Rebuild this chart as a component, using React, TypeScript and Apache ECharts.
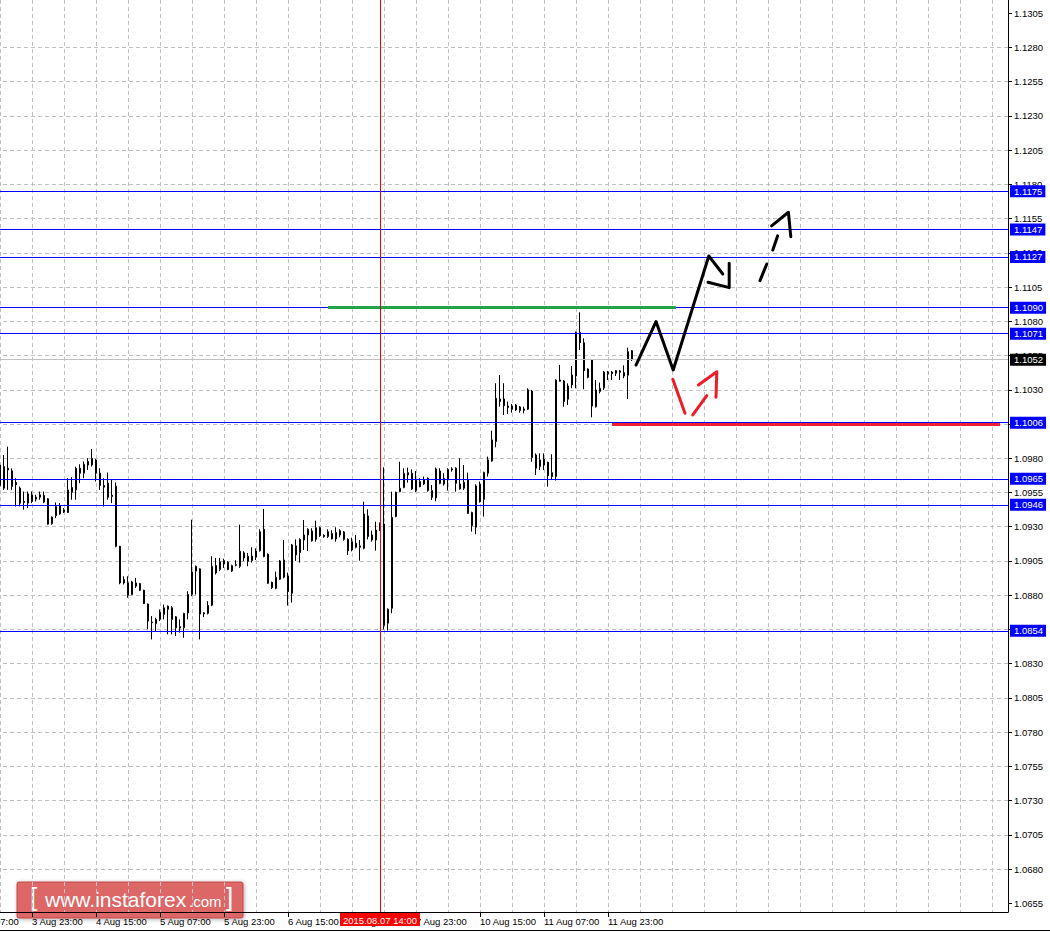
import React, { useEffect, useRef } from 'react';
import * as echarts from 'echarts';

const FONT = '"Liberation Sans", Arial, sans-serif';

// ---- axis scaffolding (price ticks every 0.0025) ----
const BASE = 1.0655;
const STEP = 0.0025;
const yTicks = [
  1.0655, 1.068, 1.0705, 1.073, 1.0755, 1.078, 1.0805, 1.083, 1.0855, 1.088, 1.0905, 1.093, 1.0955, 1.098,
  1.1005, 1.103, 1.1055, 1.108, 1.1105, 1.113, 1.1155, 1.118, 1.1205, 1.123, 1.1255, 1.128, 1.1305,
];
const yMinPrice = 1.06486;
const yMaxPrice = 1.13147;

// ---- time categories (H1 bars) ----
const sessionDays = ['3 Aug', '4 Aug', '5 Aug', '6 Aug', '7 Aug', '10 Aug', '11 Aug', '12 Aug', '13 Aug', '14 Aug', '17 Aug', '18 Aug'];
const firstHour = 7;
const slotCount = 261;
const candleStart = 8; // 3 Aug 15:00

// ---- candles (3 Aug 15:00 .. 12 Aug 05:00) ----
const candleOpen = [
  1.0975, 1.09581, 1.09727, 1.09708, 1.09623, 1.09582, 1.09484, 1.09472, 1.09533, 1.09501,
  1.09533, 1.09528, 1.09504, 1.09322, 1.0938, 1.09455, 1.09407, 1.09404, 1.09586, 1.09569,
  1.09727, 1.09691, 1.09776, 1.09751, 1.09788, 1.09691, 1.09601, 1.09618, 1.0952, 1.09596,
  1.09157, 1.08914, 1.0889, 1.08805, 1.08866, 1.08885, 1.08836, 1.08735, 1.08604, 1.08591,
  1.08623, 1.08659, 1.08696, 1.08708, 1.08642, 1.0857, 1.08562, 1.08671, 1.08805, 1.08975,
  1.08992, 1.08671, 1.08667, 1.08727, 1.09016, 1.08987, 1.09052, 1.0904, 1.08977, 1.09019,
  1.09011, 1.09109, 1.09084, 1.09052, 1.09077, 1.09125, 1.09281, 1.09099, 1.08894, 1.0885,
  1.08916, 1.09057, 1.0894, 1.08814, 1.09094, 1.09111, 1.09203, 1.0924, 1.09269, 1.09208,
  1.09293, 1.09237, 1.09228, 1.0925, 1.09211, 1.09271, 1.09262, 1.09208, 1.0913, 1.09179,
  1.0915, 1.09142, 1.09379, 1.0924, 1.09203, 1.09325, 1.0932, 1.08595, 1.08704, 1.09374,
  1.09556, 1.09586, 1.09678, 1.0969, 1.09564, 1.09629, 1.09612, 1.09654, 1.09564, 1.0951,
  1.09707, 1.09612, 1.09642, 1.09715, 1.09727, 1.09612, 1.09581, 1.09642, 1.09403, 1.09296,
  1.0961, 1.095, 1.0969, 1.0978, 1.09922, 1.10233, 1.10233, 1.10182, 1.10157, 1.10189,
  1.10148, 1.1016, 1.10158, 1.10291, 1.09824, 1.09739, 1.09793, 1.0977, 1.09695, 1.09666,
  1.10362, 1.10365, 1.10231, 1.10335, 1.10401, 1.1072, 1.10644, 1.10452, 1.10518, 1.10177,
  1.10287, 1.10314, 1.10416, 1.1043, 1.10421, 1.10426, 1.10426, 1.10406, 1.10586,
];
const candleHigh = [
  1.0984, 1.09824, 1.09885, 1.09727, 1.09654, 1.09594, 1.09557, 1.09557, 1.09557, 1.09533,
  1.09557, 1.09557, 1.09509, 1.09375, 1.09477, 1.09472, 1.09436, 1.09654, 1.09662, 1.09739,
  1.09756, 1.09776, 1.098, 1.09868, 1.09795, 1.09727, 1.09654, 1.09696, 1.09642, 1.09623,
  1.0916, 1.08938, 1.08938, 1.08905, 1.08926, 1.0889, 1.0884, 1.08739, 1.08647, 1.08635,
  1.08696, 1.08732, 1.08725, 1.0872, 1.08647, 1.08623, 1.08671, 1.08829, 1.09351, 1.09016,
  1.08997, 1.08676, 1.08756, 1.09084, 1.09072, 1.09072, 1.09067, 1.09048, 1.09023, 1.09055,
  1.09315, 1.09121, 1.09109, 1.0915, 1.09142, 1.09281, 1.0943, 1.09105, 1.08899, 1.08972,
  1.09057, 1.09203, 1.08965, 1.09174, 1.09208, 1.09215, 1.09349, 1.09289, 1.09289, 1.09344,
  1.093, 1.09245, 1.09281, 1.09274, 1.09296, 1.09281, 1.09269, 1.09215, 1.0922, 1.0924,
  1.09203, 1.09483, 1.09427, 1.09271, 1.09337, 1.0933, 1.09734, 1.08704, 1.09556, 1.09556,
  1.09775, 1.09727, 1.09732, 1.09719, 1.09707, 1.09654, 1.09666, 1.0966, 1.09605, 1.09732,
  1.09727, 1.0969, 1.09727, 1.09734, 1.09734, 1.098, 1.09751, 1.09695, 1.0941, 1.0961,
  1.0963, 1.09702, 1.09812, 1.10002, 1.10348, 1.10408, 1.10348, 1.10214, 1.10197, 1.10197,
  1.10182, 1.10177, 1.10311, 1.10299, 1.09836, 1.09836, 1.09836, 1.09775, 1.09829, 1.10377,
  1.10482, 1.10372, 1.10347, 1.10474, 1.10725, 1.10866, 1.10676, 1.10457, 1.10518, 1.10372,
  1.10353, 1.10438, 1.10438, 1.10438, 1.10445, 1.10445, 1.10479, 1.10608, 1.10591,
];
const candleLow = [
  1.0945, 1.09569, 1.09569, 1.09569, 1.09448, 1.09448, 1.09424, 1.09436, 1.09472, 1.09484,
  1.09497, 1.09472, 1.09315, 1.09315, 1.09363, 1.09387, 1.094, 1.094, 1.09497, 1.09497,
  1.09618, 1.09654, 1.09715, 1.09739, 1.0963, 1.09569, 1.09448, 1.09497, 1.09472, 1.0915,
  1.0888, 1.08878, 1.08781, 1.088, 1.08853, 1.0883, 1.08735, 1.0855, 1.08477, 1.08538,
  1.08611, 1.08623, 1.08514, 1.08514, 1.08502, 1.08526, 1.08489, 1.08623, 1.08793, 1.08805,
  1.08477, 1.0864, 1.08659, 1.0872, 1.08951, 1.08975, 1.08999, 1.08982, 1.0897, 1.09011,
  1.08999, 1.09048, 1.09011, 1.09038, 1.09057, 1.09118, 1.09077, 1.08882, 1.08845, 1.08843,
  1.08911, 1.08923, 1.08724, 1.08746, 1.0905, 1.09038, 1.0913, 1.09123, 1.09191, 1.09191,
  1.09225, 1.0922, 1.09218, 1.09208, 1.09191, 1.09223, 1.09198, 1.09094, 1.0912, 1.09142,
  1.09052, 1.09135, 1.09208, 1.09191, 1.09125, 1.0927, 1.0855, 1.08541, 1.08668, 1.09369,
  1.09552, 1.09581, 1.09622, 1.09568, 1.09552, 1.09588, 1.09605, 1.09556, 1.09495, 1.09486,
  1.0961, 1.096, 1.09564, 1.09702, 1.09556, 1.09571, 1.09568, 1.09393, 1.09264, 1.09245,
  1.09476, 1.09374, 1.09666, 1.09775, 1.0988, 1.10177, 1.10116, 1.10124, 1.10133, 1.10145,
  1.10133, 1.10128, 1.10153, 1.09775, 1.09678, 1.09714, 1.09714, 1.09593, 1.09641, 1.09637,
  1.1036, 1.10177, 1.10189, 1.10311, 1.10311, 1.10591, 1.10304, 1.10384, 1.10099, 1.1017,
  1.10274, 1.10299, 1.10372, 1.10372, 1.10401, 1.10372, 1.10384, 1.10233, 1.10511,
];
const candleClose = [
  1.096, 1.09739, 1.09715, 1.09594, 1.09606, 1.09472, 1.09477, 1.0954, 1.09484, 1.09516,
  1.09516, 1.0948, 1.09319, 1.0937, 1.09448, 1.09395, 1.09424, 1.09569, 1.09552, 1.09727,
  1.09691, 1.09756, 1.09751, 1.098, 1.09691, 1.09601, 1.09589, 1.09516, 1.0953, 1.09157,
  1.0889, 1.0889, 1.088, 1.08897, 1.0889, 1.08836, 1.08739, 1.08611, 1.08599, 1.08623,
  1.08676, 1.08708, 1.0872, 1.08623, 1.08562, 1.0856, 1.08667, 1.08805, 1.0897, 1.09011,
  1.08662, 1.08664, 1.08725, 1.09011, 1.08963, 1.09043, 1.09028, 1.08987, 1.09016, 1.09023,
  1.09121, 1.09072, 1.09048, 1.09086, 1.09123, 1.09264, 1.09082, 1.08887, 1.08855, 1.08931,
  1.0905, 1.08931, 1.08826, 1.09167, 1.0916, 1.09208, 1.0924, 1.09281, 1.09198, 1.09293,
  1.09235, 1.09228, 1.09264, 1.09211, 1.09259, 1.0924, 1.09208, 1.09125, 1.09191, 1.0915,
  1.0916, 1.09393, 1.09228, 1.09203, 1.09276, 1.09276, 1.0858, 1.08697, 1.09369, 1.09552,
  1.09581, 1.0969, 1.09695, 1.09576, 1.09642, 1.09593, 1.09642, 1.09564, 1.09515, 1.09722,
  1.09617, 1.09654, 1.09719, 1.09722, 1.09617, 1.09576, 1.09625, 1.09398, 1.09308, 1.09598,
  1.09483, 1.09697, 1.09788, 1.09934, 1.10238, 1.10214, 1.10184, 1.1017, 1.10182, 1.10153,
  1.10175, 1.1015, 1.10299, 1.09805, 1.09727, 1.09788, 1.09751, 1.09673, 1.09666, 1.10372,
  1.10372, 1.10214, 1.10328, 1.10408, 1.1072, 1.10644, 1.1044, 1.10391, 1.10182, 1.10299,
  1.10311, 1.1043, 1.1043, 1.10418, 1.1044, 1.10438, 1.10401, 1.10579, 1.1052,
];

// ---- horizontal levels ----
const levelPrices = [1.1175, 1.1147, 1.1127, 1.109, 1.1071, 1.1006, 1.0965, 1.0946, 1.0854];
const bidPrice = 1.1052;
const resistance = { price: 1.109, from: 90, to: 177 };
const support = { price: 1.10048, from: 161, to: 258 };
const markedTime = '7 Aug 14:00';
const markedTimeLabel = '2015.08.07 14:00';

// ---- hand-drawn forecast strokes: [bar index, price] ----
const mainPath = [[167, 1.10481], [172, 1.10798], [176.3, 1.10445], [185.2, 1.11277], [188.7, 1.11146]];
const mainHead = [[185.0, 1.11085], [190.3, 1.11046], [190.3, 1.11224]];
const altDash1 = [[198.0, 1.11097], [199.7, 1.11219]];
const altDash2 = [[201.2, 1.11321], [202.4, 1.11424]];
const altHead = [[200.9, 1.11497], [205.1, 1.11597], [205.7, 1.11418]];
const redDown = [[176.2, 1.10377], [179.25, 1.10129]];
const redUp = [[181.2, 1.10116], [184.7, 1.10257]];
const redHead = [[182.6, 1.10335], [187.2, 1.10432], [187.0, 1.10246]];

const toAxis = (p: number) => (p - BASE) / STEP;

function buildCategories(): string[] {
  const out: string[] = [];
  sessionDays.forEach((d, di) => {
    for (let h = di === 0 ? firstHour : 0; h < 24; h++) {
      if (out.length < slotCount) out.push(`${d} ${h < 10 ? '0' + h : h}:00`);
    }
  });
  return out;
}

export default function App() {
  const ref = useRef<HTMLDivElement>(null);

  useEffect(() => {
    if (!ref.current) return;
    const chart = echarts.init(ref.current, null, { renderer: 'svg' });
    const categories = buildCategories();
    const lastIdx = candleStart + candleOpen.length - 1;

    const candleData: any[] = [];
    for (let i = 0; i < candleStart; i++) candleData.push('-');
    for (let j = 0; j < candleOpen.length; j++) {
      candleData.push([toAxis(candleOpen[j]), toAxis(candleClose[j]), toAxis(candleLow[j]), toAxis(candleHigh[j])]);
    }

    const labelFilter = (i: number) => i % 16 === 0 && i <= lastIdx;
    const tickValues = yTicks.map(toAxis);

    const boxLabel = (bg: string) => ({
      show: true,
      position: 'end',
      distance: 2,
      formatter: '{b}',
      color: '#ffffff',
      backgroundColor: bg,
      padding: [1, 3, 1, 4],
      fontSize: 9.5,
      lineHeight: 10,
      fontFamily: FONT,
    });

    const stroke = (data: number[][], color: string) => ({
      type: 'line',
      xAxisIndex: 1,
      yAxisIndex: 0,
      data: data.map(([x, p]) => [x, toAxis(p)]),
      symbol: 'none',
      silent: true,
      z: 5,
      lineStyle: { color, width: 3, cap: 'round', join: 'round' },
    });

    const option: any = {
      animation: false,
      backgroundColor: '#ffffff',
      grid: { left: -32, top: 0, width: 1040, height: 912, containLabel: false, outerBoundsMode: 'none' },
      xAxis: [
        {
          type: 'category',
          data: categories,
          boundaryGap: false,
          axisLine: { show: true, onZero: false, lineStyle: { color: '#000', width: 1 } },
          axisTick: { show: true, interval: labelFilter, length: 5, lineStyle: { color: '#000' } },
          axisLabel: {
            show: true,
            interval: labelFilter,
            align: 'left',
            margin: 4,
            color: '#000',
            fontSize: 9.5,
            fontFamily: FONT,
          },
          splitLine: {
            show: true,
            interval: (i: number) => i % 8 === 0,
            lineStyle: { color: '#c0c0c0', width: 1, type: [4, 3] },
          },
        },
        { type: 'value', min: 0, max: slotCount - 1, show: false },
      ],
      yAxis: {
        type: 'value',
        position: 'right',
        min: toAxis(yMinPrice),
        max: toAxis(yMaxPrice),
        minInterval: 1,
        maxInterval: 1,
        axisLine: { show: true, onZero: false, lineStyle: { color: '#000', width: 1 } },
        axisTick: { show: true, length: 4, lineStyle: { color: '#000' }, customValues: tickValues },
        axisLabel: {
          show: true,
          margin: 6,
          color: '#000',
          fontSize: 9.5,
          fontFamily: FONT,
          customValues: tickValues,
          formatter: (v: number) => {
            const r = Math.round(v);
            if (Math.abs(v - r) > 1e-6) return '';
            return (BASE + r * STEP).toFixed(4);
          },
        },
        splitLine: {
          show: true,
          showMinLine: false,
          showMaxLine: false,
          lineStyle: { color: '#c0c0c0', width: 1, type: [4, 3] },
        },
      },
      series: [
        {
          type: 'candlestick',
          xAxisIndex: 0,
          yAxisIndex: 0,
          data: candleData,
          barWidth: 2,
          itemStyle: {
            color: '#ffffff',
            color0: '#000000',
            borderColor: '#000000',
            borderColor0: '#000000',
            borderWidth: 1,
          },
          markLine: {
            silent: true,
            symbol: ['none', 'none'],
            animation: false,
            precision: 6,
            data: [
              { yAxis: toAxis(bidPrice), name: bidPrice.toFixed(4), lineStyle: { color: '#c0c0c0', width: 1, type: 'solid' }, label: boxLabel('#000000') },
              ...levelPrices.map((p) => ({
                yAxis: toAxis(p),
                name: p.toFixed(4),
                lineStyle: { color: '#0000ff', width: 1, type: 'solid' },
                label: boxLabel('#0000ff'),
              })),
              [
                { coord: [resistance.from, toAxis(resistance.price)], lineStyle: { color: '#22a44a', width: 3, type: 'solid' }, label: { show: false } },
                { coord: [resistance.to, toAxis(resistance.price)], lineStyle: { color: '#22a44a', width: 3, type: 'solid' }, label: { show: false } },
              ],
              [
                { coord: [support.from, toAxis(support.price)], lineStyle: { color: '#ee2233', width: 3, type: 'solid' }, label: { show: false } },
                { coord: [support.to, toAxis(support.price)], lineStyle: { color: '#ee2233', width: 3, type: 'solid' }, label: { show: false } },
              ],
              {
                xAxis: markedTime,
                name: markedTimeLabel,
                lineStyle: { color: '#ff0000', width: 1, type: 'solid' },
                label: {
                  show: true,
                  position: 'start',
                  distance: 1,
                  formatter: '{b}',
                  color: '#ffffff',
                  backgroundColor: '#ff0000',
                  padding: [2, 3, 1, 3],
                  fontSize: 9.5,
                  lineHeight: 10,
                  fontFamily: FONT,
                },
              },
            ],
          },
        },
        stroke(mainPath, '#000000'),
        stroke(mainHead, '#000000'),
        stroke(altDash1, '#000000'),
        stroke(altDash2, '#000000'),
        stroke(altHead, '#000000'),
        stroke(redDown, '#ee1c25'),
        stroke(redUp, '#ee1c25'),
        stroke(redHead, '#ee1c25'),
      ],
      graphic: [
        {
          type: 'line',
          z: 100,
          shape: { x1: 0, y1: 930.5, x2: 1050, y2: 930.5 },
          style: { stroke: '#000', lineWidth: 1 },
        },
        {
          type: 'group',
          x: 17,
          y: 882,
          z: 100,
          children: [
            {
              type: 'rect',
              shape: { x: 0, y: 0, width: 226, height: 36, r: 2 },
              style: {
                fill: 'rgba(222,86,86,0.85)',
                stroke: 'rgba(190,60,60,0.9)',
                lineWidth: 1,
                shadowBlur: 4,
                shadowColor: 'rgba(0,0,0,0.35)',
                shadowOffsetX: 1,
                shadowOffsetY: 1,
              },
            },
            { type: 'text', x: 13, y: 15, style: { text: '[', fill: '#fff', fontSize: 26, fontFamily: FONT, verticalAlign: 'middle' } },
            { type: 'text', x: 28, y: 17, style: { text: 'www.instaforex', fill: '#fff', fontSize: 21, fontFamily: FONT, verticalAlign: 'middle' } },
            { type: 'text', x: 172, y: 19, style: { text: '.com', fill: '#fff', fontSize: 15, fontFamily: FONT, verticalAlign: 'middle' } },
            { type: 'text', x: 209, y: 15, style: { text: ']', fill: '#fff', fontSize: 26, fontFamily: FONT, verticalAlign: 'middle' } },
          ],
        },
      ],
    };

    chart.setOption(option);
    return () => chart.dispose();
  }, []);

  return <div ref={ref} style={{ position: 'absolute', left: 0, top: 0, width: 1050, height: 933 }} />;
}
